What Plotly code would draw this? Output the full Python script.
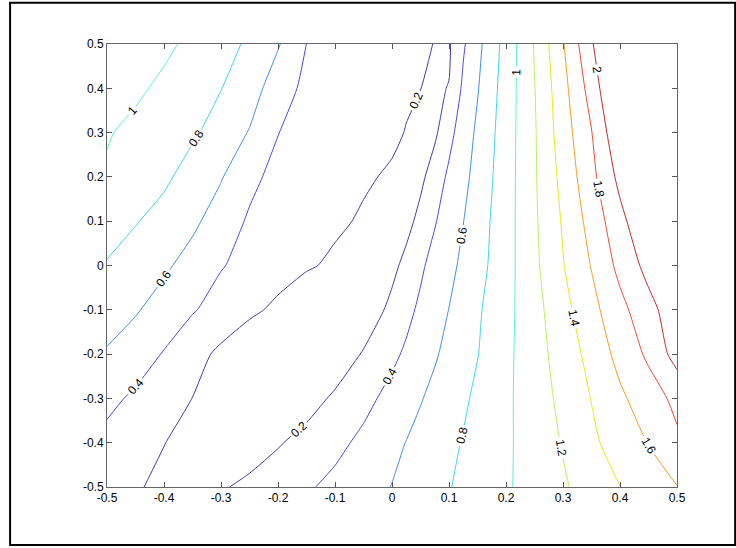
import plotly.graph_objects as go

# grid columns (x) and rows (y, top to bottom) of the field
X = [-0.5, -0.45, -0.4, -0.35, -0.3, -0.25, -0.2, -0.15, -0.1, -0.05, 0.0,
     0.025, 0.05, 0.075, 0.1, 0.125, 0.15, 0.175, 0.2, 0.25, 0.3, 0.35, 0.4, 0.45, 0.5]
Y = [0.5, 0.4, 0.3, 0.2, 0.1, 0.0, -0.1, -0.2, -0.3, -0.4, -0.5]

Z = [
    [1.18, 1.126, 1.043, 0.953, 0.882, 0.765, 0.618, 0.399, 0.335, 0.295, 0.255, 0.237, 0.218, 0.197, 0.177, 0.375, 0.548, 0.707, 0.873, 1.215, 1.586, 1.975, 2.376, 2.78, 3.18],
    [1.11, 1.036, 0.958, 0.895, 0.804, 0.696, 0.49, 0.355, 0.315, 0.28, 0.245, 0.222, 0.201, 0.18, 0.205, 0.437, 0.587, 0.739, 0.892, 1.193, 1.536, 1.882, 2.288, 2.69, 3.09],
    [1.016, 0.950, 0.90, 0.826, 0.725, 0.588, 0.404, 0.335, 0.305, 0.27, 0.228, 0.194, 0.173, 0.165, 0.34, 0.502, 0.633, 0.767, 0.905, 1.181, 1.504, 1.793, 2.177, 2.56, 2.95],
    [0.975, 0.914, 0.834, 0.725, 0.614, 0.45, 0.34, 0.30, 0.265, 0.22, 0.18, 0.16, 0.154, 0.297, 0.436, 0.548, 0.667, 0.79, 0.912, 1.178, 1.46, 1.744, 2.056, 2.37, 2.69],
    [0.89, 0.811, 0.735, 0.64, 0.506, 0.375, 0.335, 0.29, 0.228, 0.181, 0.1325, 0.135, 0.26, 0.386, 0.494, 0.596, 0.703, 0.813, 0.919, 1.17, 1.42, 1.674, 1.94, 2.19, 2.44],
    [0.785, 0.713, 0.633, 0.525, 0.411, 0.345, 0.285, 0.22, 0.17, 0.12, 0.148, 0.257, 0.368, 0.467, 0.549, 0.64, 0.73, 0.827, 0.925, 1.158, 1.391, 1.609, 1.856, 2.064, 2.277],
    [0.718, 0.618, 0.517, 0.415, 0.328, 0.243, 0.157, 0.072, -0.014, 0.067, 0.252, 0.347, 0.436, 0.519, 0.603, 0.688, 0.773, 0.858, 0.941, 1.132, 1.335, 1.539, 1.741, 1.935, 2.127],
    [0.575, 0.497, 0.387, 0.273, 0.159, 0.046, -0.068, -0.067, 0.075, 0.217, 0.358, 0.43, 0.507, 0.58, 0.652, 0.718, 0.794, 0.87, 0.954, 1.12, 1.287, 1.463, 1.663, 1.835, 2.08],
    [0.45, 0.366, 0.282, 0.198, 0.114, 0.03, 0.005, 0.118, 0.232, 0.343, 0.462, 0.526, 0.588, 0.649, 0.709, 0.772, 0.835, 0.896, 0.965, 1.102, 1.25, 1.406, 1.564, 1.708, 1.85],
    [0.345, 0.285, 0.205, 0.125, 0.045, 0.097, 0.183, 0.268, 0.349, 0.444, 0.552, 0.604, 0.656, 0.705, 0.758, 0.811, 0.863, 0.913, 0.97, 1.085, 1.213, 1.36, 1.493, 1.607, 1.765],
    [0.298, 0.2225, 0.148, 0.114, 0.18, 0.246, 0.31, 0.377, 0.448, 0.521, 0.605, 0.647, 0.69, 0.744, 0.791, 0.837, 0.884, 0.928, 0.977, 1.074, 1.177, 1.283, 1.398, 1.501, 1.594],
]

LEVELS = [0.2, 0.4, 0.6, 0.8, 1.0, 1.2, 1.4, 1.6, 1.8, 2.0]
LEVEL_COLORS = ["#3c3ca6", "#4a4ad8", "#3c8ee8", "#3cd4f0", "#5cf0d4",
                "#b8f060", "#f0e418", "#f89a20", "#f04a30", "#c02828"]

TICK_VALS = [-0.5, -0.4, -0.3, -0.2, -0.1, 0, 0.1, 0.2, 0.3, 0.4, 0.5]
TICK_TEXT = ["-0.5", "-0.4", "-0.3", "-0.2", "-0.1", "0", "0.1", "0.2", "0.3", "0.4", "0.5"]

lo, hi = LEVELS[0], LEVELS[-1]
colorscale = [[(lv - lo) / (hi - lo), c] for lv, c in zip(LEVELS, LEVEL_COLORS)]

FONT = "Liberation Sans, Arial, sans-serif"

fig = go.Figure(go.Contour(
    x=X, y=Y[::-1], z=Z[::-1],
    autocontour=False,
    contours=dict(start=lo, end=hi + 0.01, size=0.2, coloring="lines",
                  showlabels=True,
                  labelfont=dict(family=FONT, size=12, color="black"),
                  labelformat="~g"),
    line=dict(width=1, smoothing=0.6),
    colorscale=colorscale, zmin=lo, zmax=hi,
    showscale=False, hoverinfo="skip",
))

axis_common = dict(
    range=[-0.5, 0.5], tickvals=TICK_VALS, ticktext=TICK_TEXT,
    ticks="inside", ticklen=5, tickcolor="#555555", tickwidth=1,
    showline=True, linecolor="#666666", linewidth=1, mirror="ticks",
    showgrid=False, zeroline=False,
    tickfont=dict(family=FONT, size=12, color="black"),
)

fig.update_layout(
    width=736, height=548,
    margin=dict(l=107, r=59, t=44, b=61),
    paper_bgcolor="white", plot_bgcolor="white",
    showlegend=False,
    xaxis=dict(**axis_common),
    yaxis=dict(**axis_common),
    shapes=[dict(type="rect", xref="paper", yref="paper",
                 x0=-0.170, x1=1.102, y0=-0.131, y1=1.093,
                 line=dict(color="black", width=2), layer="below")],
)

fig.write_html("out.html", config={"displayModeBar": False},
               post_script="document.body.style.margin='0px';document.body.style.overflow='hidden';")
